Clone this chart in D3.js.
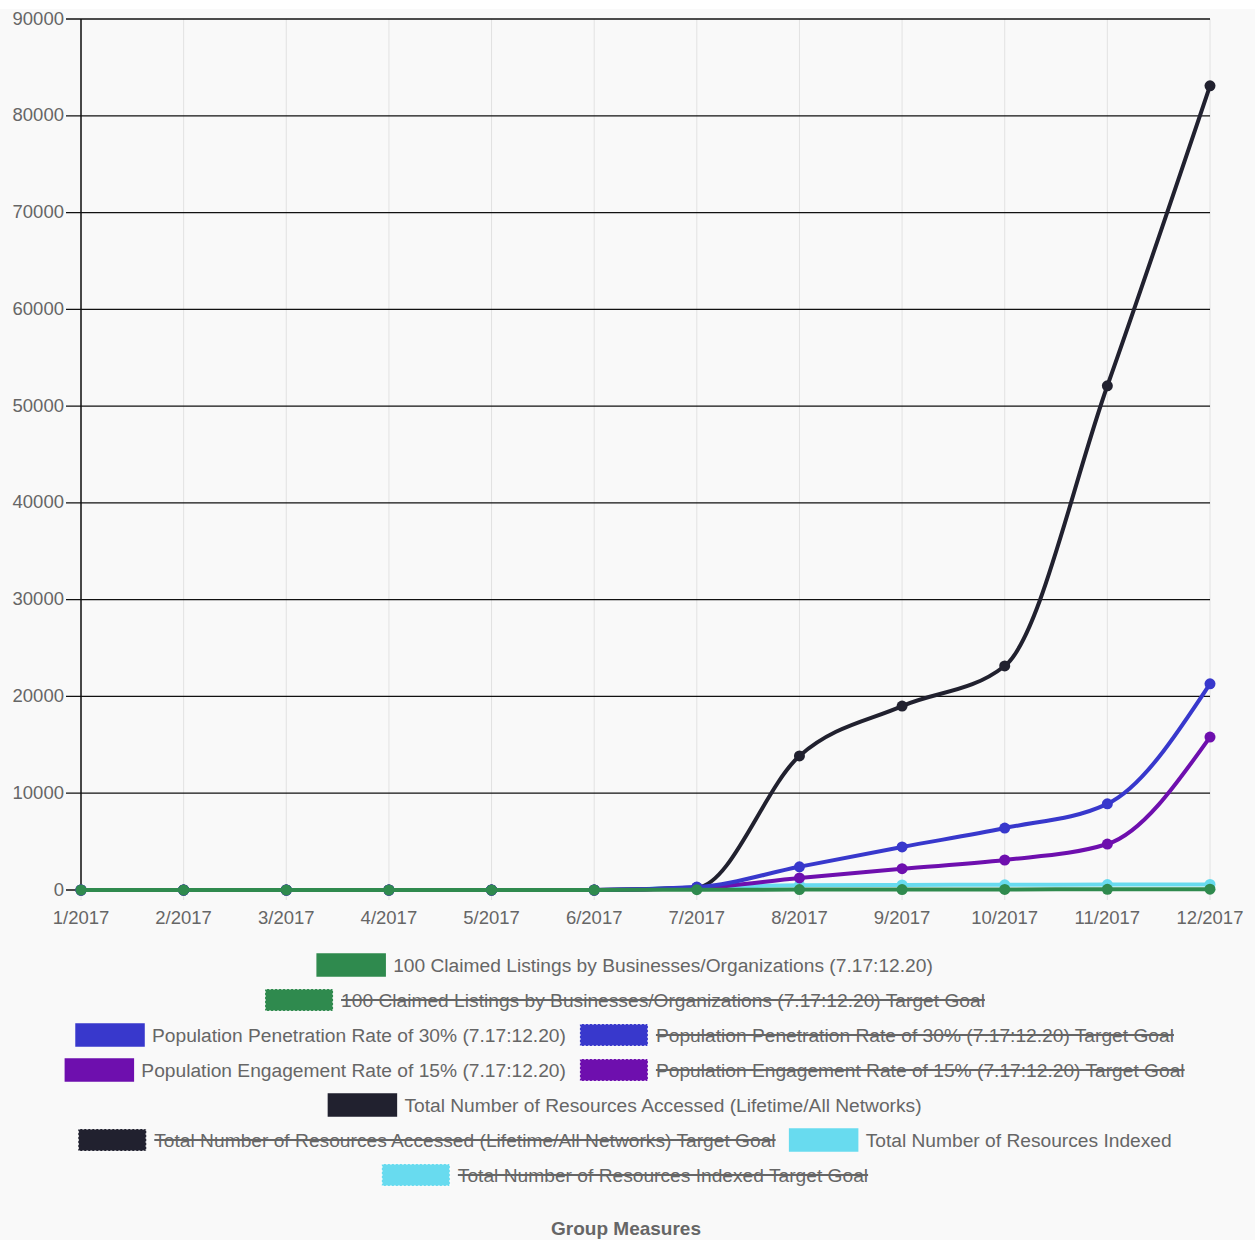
<!DOCTYPE html>
<html>
<head>
<meta charset="utf-8">
<script src="https://cdn.jsdelivr.net/npm/d3@7"></script>
<style>
  body { margin: 0; background: #fff; }
  svg { display: block; font-family: "Liberation Sans", Arial, sans-serif; }
</style>
</head>
<body>
<div id="chart"></div>
<script>
// month labels on x axis
var months = ['1/2017','2/2017','3/2017','4/2017','5/2017','6/2017','7/2017','8/2017','9/2017','10/2017','11/2017','12/2017'];
var yTicks = [0,10000,20000,30000,40000,50000,60000,70000,80000,90000];

// series values
var claimed   = [0,0,0,0,0,0,30,40,50,60,70,80];
var penetration = [0,0,0,0,0,0,300,2400,4450,6400,8900,21300];
var engagement  = [0,0,0,0,0,0,200,1250,2200,3100,4750,15800];
var accessed    = [0,0,0,0,0,0,250,13850,19000,23150,52100,83100];
var indexed     = [0,0,0,0,0,0,250,500,520,540,560,580];

var seriesNames = [
  '100 Claimed Listings by Businesses/Organizations (7.17:12.20)',
  '100 Claimed Listings by Businesses/Organizations (7.17:12.20) Target Goal',
  'Population Penetration Rate of 30% (7.17:12.20)',
  'Population Penetration Rate of 30% (7.17:12.20) Target Goal',
  'Population Engagement Rate of 15% (7.17:12.20)',
  'Population Engagement Rate of 15% (7.17:12.20) Target Goal',
  'Total Number of Resources Accessed (Lifetime/All Networks)',
  'Total Number of Resources Accessed (Lifetime/All Networks) Target Goal',
  'Total Number of Resources Indexed',
  'Total Number of Resources Indexed Target Goal'
];
var seriesColors = ['#2f8a4e','#2f8a4e','#3838cc','#3838cc','#6e0fae','#6e0fae','#21212f','#21212f','#68dbef','#68dbef'];
var seriesHidden = [false,true,false,true,false,true,false,true,false,true];
var seriesValues = [claimed,null,penetration,null,engagement,null,accessed,null,indexed,null];

var W = 1255, H = 1240;
var margin = {top: 19, left: 81, right: 45, bottom: 350};
var width = W - margin.left - margin.right,   // 1129
    height = 890 - margin.top;

var svg = d3.select('#chart').append('svg')
    .attr('width', W).attr('height', H);

svg.append('rect').attr('x', 0).attr('y', 9).attr('width', W).attr('height', H - 9).attr('fill', '#f9f9f9');

var g = svg.append('g').attr('transform', 'translate(' + margin.left + ',' + margin.top + ')');

var x = d3.scalePoint().domain(months).range([0, width]);
var y = d3.scaleLinear().domain([0, 90000]).range([height, 0]);

// vertical grid (light)
g.append('g').selectAll('line').data(months).enter().append('line')
    .attr('x1', function(d) { return x(d); }).attr('x2', function(d) { return x(d); })
    .attr('y1', 0).attr('y2', height + 10)
    .attr('stroke', '#e2e2e2').attr('stroke-width', 1);

// horizontal grid (dark)
g.append('g').selectAll('line').data(yTicks).enter().append('line')
    .attr('x1', -15).attr('x2', width)
    .attr('y1', function(d) { return y(d); }).attr('y2', function(d) { return y(d); })
    .attr('stroke', '#111').attr('stroke-width', 1.3);

// y axis line
g.append('line').attr('x1', 0).attr('x2', 0).attr('y1', 0).attr('y2', height)
    .attr('stroke', '#111').attr('stroke-width', 1.5);

// y tick labels
g.append('g').selectAll('text').data(yTicks).enter().append('text')
    .attr('x', -17).attr('y', function(d) { return y(d); })
    .attr('dy', '0.3em')
    .attr('text-anchor', 'end')
    .attr('fill', '#666').attr('font-size', '18.5px')
    .text(function(d) { return d; });

// x tick labels
g.append('g').selectAll('text').data(months).enter().append('text')
    .attr('x', function(d) { return x(d); }).attr('y', height + 34)
    .attr('text-anchor', 'middle')
    .attr('fill', '#666').attr('font-size', '18.5px')
    .text(function(d) { return d; });

var line = d3.line()
    .curve(d3.curveMonotoneX)
    .x(function(d, i) { return x(months[i]); })
    .y(function(d) { return y(d); });

// draw in reverse so the first dataset ends up on top
for (var i = seriesNames.length - 1; i >= 0; i--) {
    if (seriesHidden[i] || !seriesValues[i]) continue;
    var vals = seriesValues[i];
    g.append('path').datum(vals)
        .attr('fill', 'none')
        .attr('stroke', seriesColors[i])
        .attr('stroke-width', 4)
        .attr('d', line);
    g.append('g').selectAll('circle').data(vals).enter().append('circle')
        .attr('cx', function(d, j) { return x(months[j]); })
        .attr('cy', function(d) { return y(d); })
        .attr('r', 5.5)
        .attr('fill', seriesColors[i]);
}

// legend, wrapped and centred like chart.js
var boxW = 68, boxH = 22, textGap = 8, itemGap = 14, rowH = 35;
var legendFont = 19.2, maxRow = 1210, centerX = 625, firstRowY = 965;

var tmp = svg.append('text').attr('font-size', legendFont + 'px');
var items = seriesNames.map(function(name, i) {
    tmp.text(name);
    var tw = tmp.node().getComputedTextLength();
    return {name: name, i: i, tw: tw, w: boxW + textGap + tw};
});
tmp.remove();

var rows = [[]], rowW = [0];
items.forEach(function(it) {
    var r = rows.length - 1;
    var add = rows[r].length ? itemGap + it.w : it.w;
    if (rows[r].length && rowW[r] + add > maxRow) {
        rows.push([it]); rowW.push(it.w);
    } else {
        rows[r].push(it); rowW[r] += add;
    }
});

var legend = svg.append('g');
rows.forEach(function(row, r) {
    var cx = centerX - rowW[r] / 2;
    var cy = firstRowY + r * rowH;
    row.forEach(function(it) {
        var col = seriesColors[it.i];
        legend.append('rect')
            .attr('x', cx).attr('y', cy - boxH / 2)
            .attr('width', boxW).attr('height', boxH)
            .attr('fill', col)
            .attr('stroke', seriesHidden[it.i] ? '#fff' : col)
            .attr('stroke-opacity', seriesHidden[it.i] ? 0.7 : 1)
            .attr('stroke-dasharray', seriesHidden[it.i] ? '2,2' : null)
            .attr('stroke-width', 1.5);
        legend.append('text')
            .attr('x', cx + boxW + textGap).attr('y', cy)
            .attr('dy', '0.35em')
            .attr('fill', '#666').attr('font-size', legendFont + 'px')
            .text(it.name);
        if (seriesHidden[it.i]) {
            legend.append('line')
                .attr('x1', cx + boxW + textGap).attr('x2', cx + boxW + textGap + it.tw)
                .attr('y1', cy).attr('y2', cy)
                .attr('stroke', '#666').attr('stroke-width', 1.8);
        }
        cx += it.w + itemGap;
    });
});

// title at bottom
svg.append('text')
    .attr('x', 626).attr('y', 1228).attr('dy', '0.35em')
    .attr('text-anchor', 'middle')
    .attr('fill', '#666').attr('font-size', '19px').attr('font-weight', 'bold')
    .text('Group Measures');
</script>
</body>
</html>
